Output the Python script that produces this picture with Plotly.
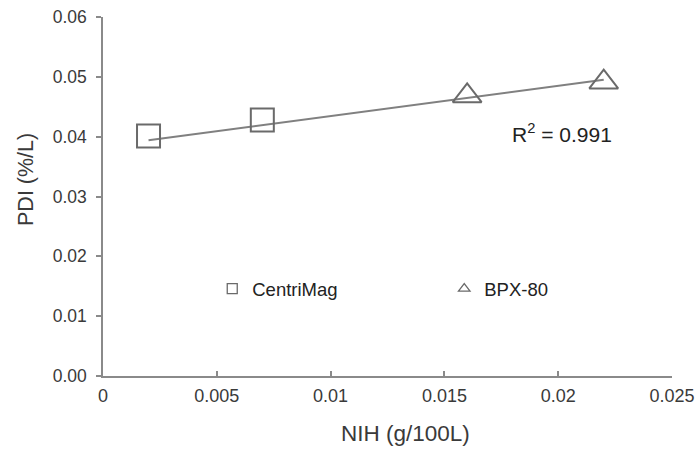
import plotly.graph_objects as go

# Data
centrimag_x = [0.002, 0.007]
centrimag_y = [0.0401, 0.0428]
bpx_x = [0.016, 0.022]
bpx_y = [0.0468, 0.0491]
trend_x = [0.002, 0.022]
trend_y = [0.0394, 0.0495]
r2_label = "R<sup>2</sup> = 0.991"
x_title = "NIH (g/100L)"
y_title = "PDI (%/L)"
x_ticks = [0, 0.005, 0.01, 0.015, 0.02, 0.025]
x_ticklabels = ["0", "0.005", "0.01", "0.015", "0.02", "0.025"]
y_ticks = [0, 0.01, 0.02, 0.03, 0.04, 0.05, 0.06]
y_ticklabels = ["0.00", "0.01", "0.02", "0.03", "0.04", "0.05", "0.06"]

FONT = "Liberation Sans, Arial, sans-serif"
GRAY = "#8a8a8a"
TXT = "#3a3a3a"
MK = "#6a6a6a"

fig = go.Figure()
fig.add_trace(go.Scatter(x=trend_x, y=trend_y, mode="lines",
                         line=dict(color="#808080", width=2), showlegend=False,
                         hoverinfo="skip"))
fig.add_trace(go.Scatter(x=centrimag_x, y=centrimag_y, mode="markers", name="CentriMag",
                         marker=dict(symbol="square-open", size=23,
                                     color=MK, line=dict(width=2, color=MK)),
                         showlegend=False))
fig.add_trace(go.Scatter(x=bpx_x, y=bpx_y, mode="markers", name="BPX-80",
                         marker=dict(symbol="triangle-up-open", size=25,
                                     color=MK, line=dict(width=2, color=MK)),
                         showlegend=False))
# legend entries with small symbols
fig.add_trace(go.Scatter(x=[None], y=[None], mode="markers", name="CentriMag",
                         marker=dict(symbol="square-open", size=10, color=MK,
                                     line=dict(width=1.3, color=MK))))
fig.add_trace(go.Scatter(x=[None], y=[None], mode="markers", name="BPX-80",
                         marker=dict(symbol="triangle-up-open", size=10, color=MK,
                                     line=dict(width=1.3, color=MK))))

fig.add_annotation(x=0.02245, y=0.0406, xref="x", yref="y", text=r2_label,
                   showarrow=False, xanchor="right", yanchor="middle",
                   font=dict(family=FONT, size=21, color="#222222"))
# axis titles
fig.add_annotation(x=0.531, y=0, xref="paper", yref="paper", text=x_title,
                   showarrow=False, xanchor="center", yanchor="middle", yshift=-57,
                   font=dict(family=FONT, size=22.5, color=TXT))
fig.add_annotation(x=0, y=0.546, xref="paper", yref="paper", text=y_title,
                   showarrow=False, xanchor="center", yanchor="middle", xshift=-77,
                   textangle=-90, font=dict(family=FONT, size=21.5, color=TXT))

fig.update_layout(
    width=699, height=450,
    margin=dict(l=103, r=27, t=17, b=74),
    paper_bgcolor="white", plot_bgcolor="white",
    font=dict(family=FONT, color=TXT),
    legend=dict(orientation="h", x=0.192, y=0.242, xanchor="left", yanchor="middle",
                entrywidth=187, entrywidthmode="pixels",
                font=dict(family=FONT, size=18.5, color="#222222"),
                bgcolor="rgba(0,0,0,0)", itemwidth=30),
    xaxis=dict(range=[0, 0.025], tickvals=x_ticks, ticktext=x_ticklabels, automargin=False,
               showgrid=False, zeroline=False, showline=True, linecolor=GRAY, linewidth=1.5,
               ticks="inside", ticklen=5, tickcolor=GRAY, tickwidth=1.5,
               ticklabelstandoff=3,
               tickfont=dict(family=FONT, size=18, color=TXT)),
    yaxis=dict(range=[0, 0.06], tickvals=y_ticks, ticktext=y_ticklabels, automargin=False,
               showgrid=False, zeroline=False, showline=True, linecolor=GRAY, linewidth=1.5,
               ticks="outside", ticklen=5, tickcolor=GRAY, tickwidth=1.5,
               ticklabelstandoff=6,
               tickfont=dict(family=FONT, size=17.5, color=TXT)),
)

fig.write_html("out.html")
